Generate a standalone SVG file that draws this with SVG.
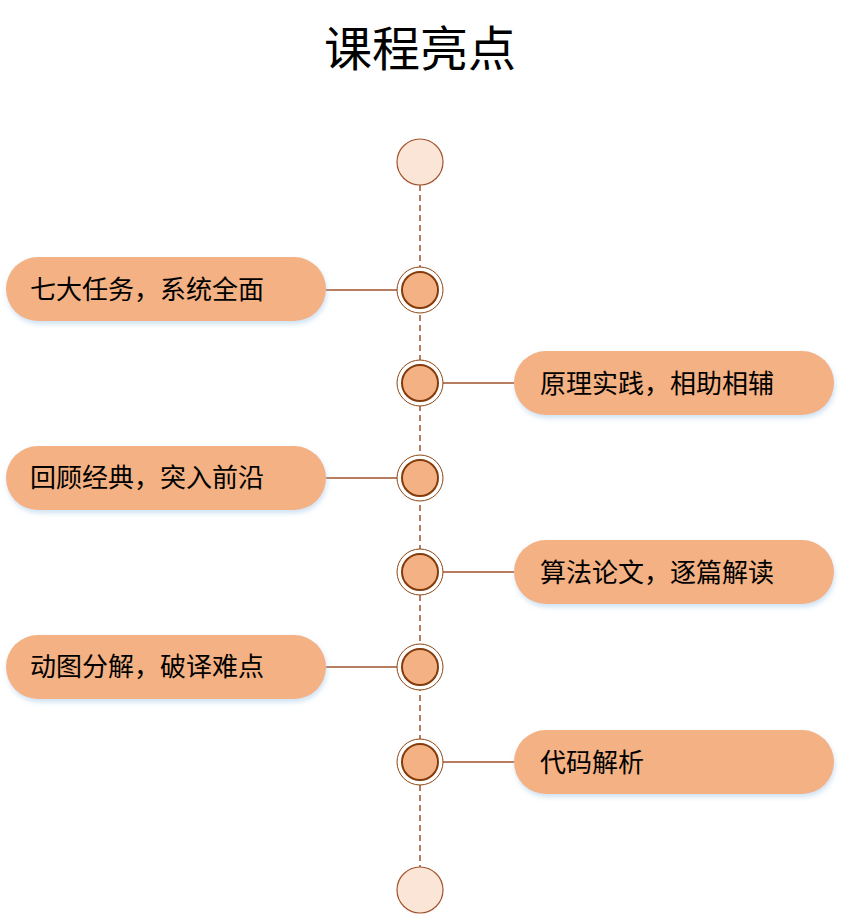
<svg xmlns="http://www.w3.org/2000/svg" width="841" height="924" viewBox="0 0 841 924">
<style>
.t{font-family:"Noto Sans CJK SC","Noto Sans",sans-serif;font-size:26px;fill:#000}
.pill{fill:#f4b183;filter:url(#sh)}
.end{fill:#fbe5d6;stroke:#a0522d;stroke-width:1.2}
.ring{fill:#fff;stroke:#8b4513;stroke-width:1}
.dot{fill:#f4b183;stroke:#843c0c;stroke-width:2}
.ln{stroke:#a0522d;stroke-width:1.5}
</style>
<defs><filter id="sh" x="-10%" y="-20%" width="120%" height="150%"><feDropShadow dx="1" dy="3" stdDeviation="2.5" flood-color="#9dc3e6" flood-opacity="0.5"/></filter></defs>
<rect width="841" height="924" fill="#fff"/>
<text x="420" y="66" text-anchor="middle" font-family="Noto Sans CJK SC,sans-serif" font-size="48" fill="#000">课程亮点</text>
<g id="connectors">
<line class="ln" x1="420" y1="185" x2="420" y2="867" stroke-dasharray="6,4"/>
<line class="ln" x1="326" y1="290" x2="397" y2="290"/>
<line class="ln" x1="443" y1="383" x2="514" y2="383"/>
<line class="ln" x1="326" y1="478" x2="397" y2="478"/>
<line class="ln" x1="443" y1="572" x2="514" y2="572"/>
<line class="ln" x1="326" y1="667" x2="397" y2="667"/>
<line class="ln" x1="443" y1="762" x2="514" y2="762"/>
</g>
<g id="start"><circle class="end" cx="420" cy="162" r="23"/></g>
<g id="end"><circle class="end" cx="420" cy="890" r="23"/></g>
<g id="n1"><circle class="ring" cx="420" cy="290" r="23"/><circle class="dot" cx="420" cy="290" r="18"/><rect class="pill" x="6" y="257" width="320" height="64" rx="32"/><text class="t" x="30" y="299">七大任务，系统全面</text></g>
<g id="n2"><circle class="ring" cx="420" cy="383" r="23"/><circle class="dot" cx="420" cy="383" r="18"/><rect class="pill" x="514" y="351" width="320" height="64" rx="32"/><text class="t" x="540" y="393">原理实践，相助相辅</text></g>
<g id="n3"><circle class="ring" cx="420" cy="478" r="23"/><circle class="dot" cx="420" cy="478" r="18"/><rect class="pill" x="6" y="446" width="320" height="64" rx="32"/><text class="t" x="30" y="487">回顾经典，突入前沿</text></g>
<g id="n4"><circle class="ring" cx="420" cy="572" r="23"/><circle class="dot" cx="420" cy="572" r="18"/><rect class="pill" x="514" y="540" width="320" height="64" rx="32"/><text class="t" x="540" y="582">算法论文，逐篇解读</text></g>
<g id="n5"><circle class="ring" cx="420" cy="667" r="23"/><circle class="dot" cx="420" cy="667" r="18"/><rect class="pill" x="6" y="635" width="320" height="64" rx="32"/><text class="t" x="30" y="676">动图分解，破译难点</text></g>
<g id="n6"><circle class="ring" cx="420" cy="762" r="23"/><circle class="dot" cx="420" cy="762" r="18"/><rect class="pill" x="514" y="730" width="320" height="64" rx="32"/><text class="t" x="540" y="772">代码解析</text></g>
</svg>
